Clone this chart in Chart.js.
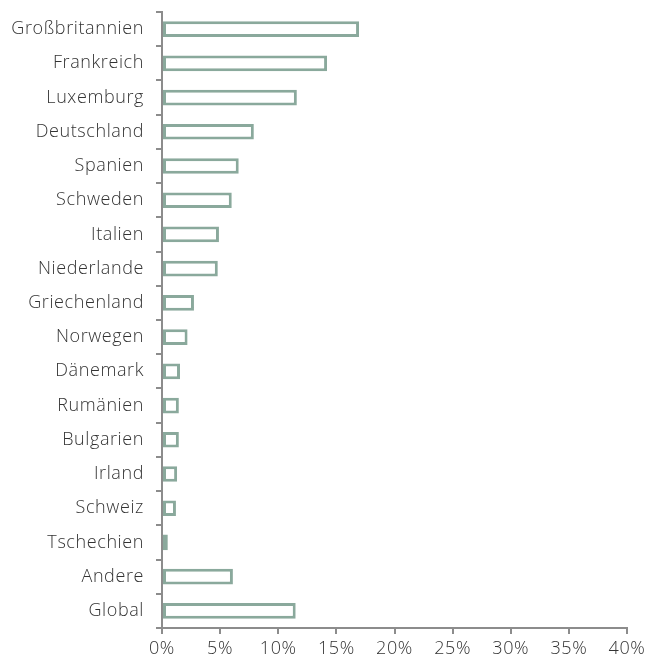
<!DOCTYPE html>
<html>
<head>
<meta charset="utf-8">
<script src="https://cdn.jsdelivr.net/npm/chart.js@4"></script>
<style>
html,body{margin:0;padding:0;background:#fff;}
canvas{display:block;}
</style>
</head>
<body>
<canvas id="c" width="646" height="663"></canvas>
<script>
const categories = ["Großbritannien","Frankreich","Luxemburg","Deutschland","Spanien","Schweden","Italien","Niederlande","Griechenland","Norwegen","Dänemark","Rumänien","Bulgarien","Irland","Schweiz","Tschechien","Andere","Global"];
const values = [16.95, 14.2, 11.6, 7.9, 6.6, 6.0, 4.9, 4.8, 2.75, 2.2, 1.55, 1.45, 1.45, 1.3, 1.2, 0.5, 6.1, 11.5];
const xTicks = [0, 5, 10, 15, 20, 25, 30, 35, 40];

const axisColor = "#8c8c8c";
const font = {family: "'Open Sans', sans-serif", size: 18, weight: 300};

const spacing = {
  id: "spacing",
  beforeDraw(chart) { chart.ctx.letterSpacing = "0.6px"; },
  afterDraw(chart) { chart.ctx.letterSpacing = "0px"; }
};

new Chart(document.getElementById("c"), {
  type: "bar",
  data: {
    labels: categories,
    datasets: [{
      data: values,
      backgroundColor: "#ffffff",
      borderColor: "#8aa99c",
      borderWidth: 3,
      borderSkipped: false,
      barPercentage: 0.52,
      categoryPercentage: 0.88
    }]
  },
  options: {
    indexAxis: "y",
    responsive: false,
    animation: false,
    layout: {padding: {top: 12, right: 19, left: 0, bottom: 0}},
    plugins: {legend: {display: false}, tooltip: {enabled: false}},
    scales: {
      x: {
        min: 0, max: 40,
        afterFit: s => { s.height = 35; s.paddingRight = 0; s.paddingLeft = 0; },
        afterBuildTicks: s => { s.ticks = xTicks.map(v => ({value: v})); },
        ticks: {
          color: "#333333",
          font: font,
          padding: 4,
          maxRotation: 0,
          callback: v => v + "%"
        },
        grid: {display: true, drawOnChartArea: false, drawTicks: true, tickLength: 6, color: axisColor, lineWidth: 2},
        border: {display: true, color: axisColor, width: 2}
      },
      y: {
        afterFit: s => { s.width = 162; s.paddingTop = 0; s.paddingBottom = 0; },
        ticks: {color: "#333333", font: font, padding: 12},
        grid: {display: true, offset: true, drawOnChartArea: false, drawTicks: true, tickLength: 6, color: axisColor, lineWidth: 2},
        border: {display: true, color: axisColor, width: 2}
      }
    }
  },
  plugins: [spacing]
});
</script>
</body>
</html>
